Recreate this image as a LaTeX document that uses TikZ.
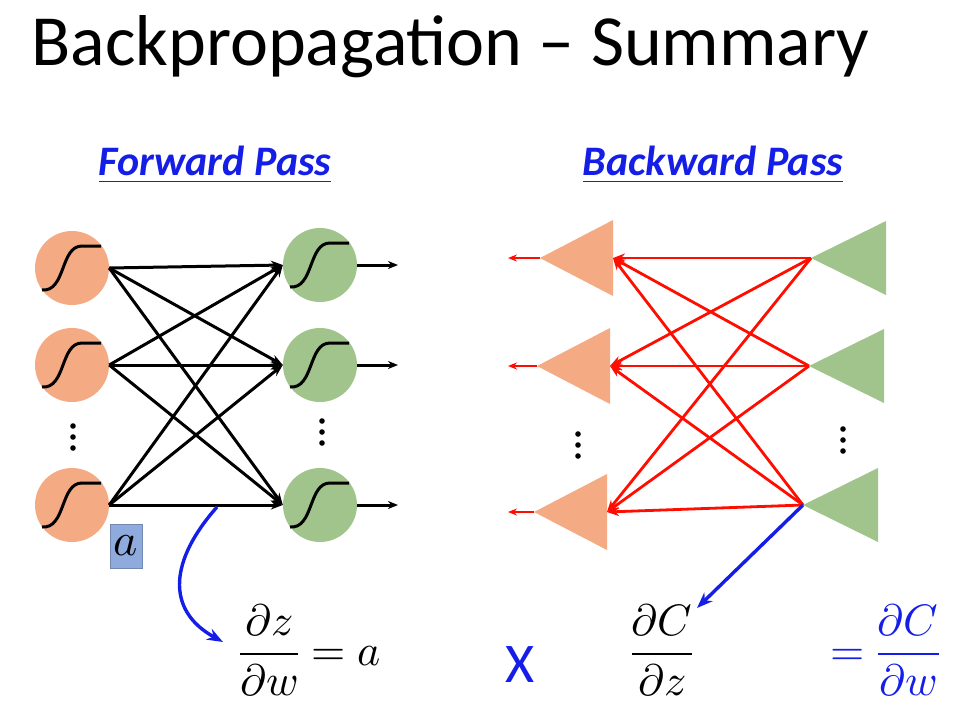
\documentclass[tikz,border=0pt]{standalone}
\usepackage{amsmath}
\usepackage{fontspec}
\usepackage{unicode-math}
\setmainfont{Carlito}
\setmathfont{Latin Modern Math}
\usepackage{tikz}
\usetikzlibrary{arrows.meta,calc}

\definecolor{orng}{RGB}{244,170,130}
\definecolor{grn}{RGB}{160,196,140}
\definecolor{fwdblue}{RGB}{20,30,230}
\definecolor{boxblue}{RGB}{143,170,220}

\tikzset{
  neuron/.style = {circle, minimum size=74pt, inner sep=0pt},
  sig/.style = {line width=3pt},
  fwd/.style = {-{Stealth[length=12pt,width=9pt]}, line width=3pt},
  bwd/.style = {-{Stealth[length=12pt,width=9pt]}, line width=2.8pt, red!90!orange},
  head/.style = {font=\bfseries\itshape\fontsize{42}{46}\selectfont, text=fwdblue},
  eq/.style = {font=\fontsize{44}{48}\selectfont}
}

\newcommand{\sigmo}[1]{\draw[sig] ($(#1)+(-30,22)$) .. controls ($(#1)+(-6,24)$) and ($(#1)+(-12,-22)$) .. ($(#1)+(10,-22)$) -- ($(#1)+(29,-22)$);}
\newcommand{\vdts}[1]{\foreach \d in {-11,0,11} \fill ($(#1)+(0,\d)$) circle (2.8pt);}

\begin{document}
\begin{tikzpicture}[x=1pt,y=-1pt]
\useasboundingbox (0,0) rectangle (966,721);

\node[anchor=west, font=\fontsize{72}{76}\selectfont] (title) at (28,47) {Backpropagation -- Summary};
\node[head] (fwdh) at (215,165) {\underline{Forward Pass}};
\node[head] (bwdh) at (713,165) {\underline{Backward Pass}};

% forward pass
\node[neuron, fill=orng] (o1) at (72,268) {};
\node[neuron, fill=orng] (o2) at (72,365) {};
\node[neuron, fill=orng] (o3) at (72,505) {};
\node[neuron, fill=grn] (g1) at (320,265) {};
\node[neuron, fill=grn] (g2) at (320,365) {};
\node[neuron, fill=grn] (g3) at (320,505) {};
\foreach \n in {o1,o2,o3,g1,g2,g3}
	{\sigmo{\n}}

\foreach \from in {o1,o2,o3}
	\foreach \to in {g1,g2,g3}
		\draw[fwd] (\from.east) -- (\to.west);

\coordinate (out1) at (398,265);
\coordinate (out2) at (398,365);
\coordinate (out3) at (398,505);
\foreach \n in {1,2,3}
	\draw[fwd, -{Stealth[length=10pt,width=8pt]}] (g\n.east) -- (out\n);

\coordinate (dl) at (73,437);
\coordinate (dr) at (322,432);
\vdts{dl}
\vdts{dr}

\node[fill=boxblue, draw=boxblue!80!black, minimum width=32pt, minimum height=44pt, inner sep=0pt, font=\fontsize{46}{46}\selectfont] (abox) at (126,546) {$a$};

\coordinate (wmid) at (217,507);
\node[eq] (dzdw) at (310,650) {$\dfrac{\partial z}{\partial w} = a$};
\draw[-{Stealth[length=16pt,width=12pt]}, line width=3.4pt, fwdblue] (wmid) .. controls (170,560) and (165,610) .. (223,642);

% backward pass
\foreach \n/\y/\b in {1/258/613, 2/366/610, 3/512/607}{
	\fill[orng] (\b,\y-38) -- (\b,\y+38) -- (\b-73,\y) -- cycle;
	\coordinate (ob\n) at (\b,\y);
	\coordinate (oa\n) at (\b-73,\y);
	\coordinate (ol\n) at (508,\y);
}
\foreach \n/\y/\b in {1/258/886, 2/366/884, 3/505/878}{
	\fill[grn] (\b,\y-37) -- (\b,\y+37) -- (\b-75,\y) -- cycle;
	\coordinate (ga\n) at (\b-75,\y);
}
\foreach \from in {ga1,ga2,ga3}
	\foreach \to in {ob1,ob2,ob3}
		\draw[bwd] (\from) -- (\to);
\foreach \n in {1,2,3}
	\draw[bwd, -{Stealth[length=9pt,width=7pt]}] (oa\n) -- (ol\n);

\coordinate (dbl) at (578,445);
\coordinate (dbr) at (843,440);
\vdts{dbl}
\vdts{dbr}

\node[eq] (dcdz) at (662,650) {$\dfrac{\partial C}{\partial z}$};
\draw[-{Stealth[length=16pt,width=12pt]}, line width=3.4pt, fwdblue] (ga3) -- (697,608);

\node[font=\fontsize{56}{56}\selectfont, text=fwdblue] (times) at (520,665) {X};
\node[eq, text=fwdblue] (dcdw) at (885,650) {$= \dfrac{\partial C}{\partial w}$};
\end{tikzpicture}
\end{document}
